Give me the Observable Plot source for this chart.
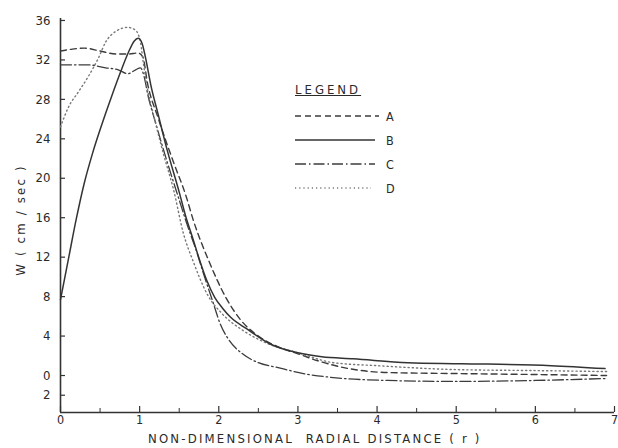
<!DOCTYPE html>
<html>
<head>
<meta charset="utf-8">
<script src="https://cdn.jsdelivr.net/npm/d3@7"></script>
<script src="https://cdn.jsdelivr.net/npm/@observablehq/plot@0.6"></script>
<style>
  html, body { margin: 0; padding: 0; background: #fff; }
  #wrap { position: relative; width: 618px; height: 448px; overflow: hidden;
          font-family: "DejaVu Sans Condensed", "DejaVu Sans", sans-serif; color: #2a2a2a; }
  #xlabel { position: absolute; left: 148px; top: 431px; font-size: 13px; line-height: 15px; letter-spacing: 2.2px; white-space: pre; }
  #ylabel { position: absolute; left: 20px; top: 220px; font-size: 13px; letter-spacing: 2.2px; white-space: pre;
            transform: translate(-50%, -50%) rotate(-90deg); }
  #legend { position: absolute; left: 295px; top: 82px; font-size: 12.5px; }
  #legend .title { text-decoration: underline; letter-spacing: 3px; font-size: 13px; margin-bottom: 7px; }
  #legend .row { display: flex; align-items: center; height: 24px; }
  #legend svg { display: block; margin-right: 5px; }
</style>
</head>
<body>
<div id="wrap">
  <div id="chart"></div>
  <div id="xlabel"></div>
  <div id="ylabel"></div>
  <div id="legend"></div>
</div>
<script>
// ---- data ----
const seriesNames = ["A", "B", "C", "D"];

const rA = [0, 0.15, 0.3, 0.5, 0.7, 0.86, 0.98, 1.04, 1.1, 1.23, 1.42, 1.59, 1.68, 1.87, 2.09, 2.28, 2.5, 2.75, 3.0, 3.25, 3.58, 4.13, 5.0, 6.0, 6.9];
const wA = [32.9, 33.1, 33.2, 32.9, 32.6, 32.6, 32.7, 32.3, 29.6, 26.2, 21.8, 18.1, 15.7, 11.7, 7.9, 5.6, 4.0, 2.9, 2.2, 1.5, 0.8, 0.3, 0.2, 0.1, 0.0];

const rB = [0, 0.1, 0.2, 0.3, 0.4, 0.52, 0.65, 0.76, 0.86, 0.93, 0.98, 1.03, 1.08, 1.14, 1.23, 1.35, 1.5, 1.58, 1.68, 1.75, 1.85, 1.95, 2.05, 2.15, 2.36, 2.65, 3.0, 3.3, 3.7, 4.39, 5.06, 6.2, 6.88];
const wB = [7.7, 11.8, 15.9, 19.5, 22.4, 25.4, 28.4, 30.8, 32.8, 33.9, 34.2, 33.7, 32.0, 29.5, 26.6, 22.8, 18.6, 16.2, 13.7, 11.9, 9.6, 7.9, 6.8, 5.9, 4.7, 3.2, 2.3, 1.9, 1.7, 1.3, 1.2, 1.0, 0.7];

const rC = [0, 0.35, 0.57, 0.73, 0.85, 0.95, 1.01, 1.06, 1.1, 1.21, 1.35, 1.5, 1.6, 1.71, 1.82, 1.92, 2.02, 2.12, 2.3, 2.5, 2.75, 3.07, 3.58, 4.13, 4.97, 6.0, 6.9];
const wC = [31.5, 31.5, 31.2, 31.0, 30.6, 31.0, 31.2, 30.2, 28.6, 25.4, 21.6, 17.8, 15.3, 12.8, 10.0, 7.6, 5.2, 3.7, 2.2, 1.3, 0.8, 0.2, -0.3, -0.5, -0.6, -0.5, -0.3];

const rD = [0, 0.1, 0.23, 0.35, 0.48, 0.57, 0.7, 0.85, 0.95, 1.01, 1.05, 1.1, 1.17, 1.3, 1.43, 1.55, 1.68, 1.85, 2.05, 2.3, 2.6, 3.0, 3.45, 4.0, 5.0, 6.0, 6.9];
const wD = [25.2, 27.2, 28.8, 30.3, 32.2, 33.8, 34.9, 35.3, 35.0, 33.8, 31.5, 29.0, 26.6, 22.5, 18.8, 14.5, 11.5, 8.3, 6.2, 4.6, 3.3, 2.3, 1.3, 1.0, 0.6, 0.5, 0.4];

const yTickValues = [36, 32, 28, 24, 20, 16, 12, 8, 4, 0, -2];
const yTickLabels = ["36", "32", "28", "24", "20", "16", "12", "8", "4", "0", "2"];
const xTickValues = [0, 1, 2, 3, 4, 5, 6, 7];
const xMinorTicks = [0.5, 1.5, 2.5, 3.5, 4.5, 5.5, 6.5];
const xLabel = "NON-DIMENSIONAL  RADIAL DISTANCE ( r )";
const yLabel = "W ( cm / sec )";
const legendTitle = "LEGEND";

// ---- build tables ----
const toRows = (rs, ws) => rs.map((r, i) => ({r, w: ws[i]}));
const rowsA = toRows(rA, wA), rowsB = toRows(rB, wB), rowsC = toRows(rC, wC), rowsD = toRows(rD, wD);

const styles = {
  A: {stroke: "#3c3c3c", strokeWidth: 1.4, strokeDasharray: "6,4"},
  B: {stroke: "#333", strokeWidth: 1.5, strokeDasharray: null},
  C: {stroke: "#3c3c3c", strokeWidth: 1.3, strokeDasharray: "11,3,1.5,3"},
  D: {stroke: "#777", strokeWidth: 1.4, strokeDasharray: "1.2,3"}
};

const yMin = -3.75, yMax = 36.2;
const axisColor = "#333";

const chart = Plot.plot({
  width: 618,
  height: 448,
  marginLeft: 60,
  marginRight: 4,
  marginTop: 18,
  marginBottom: 36,
  x: {domain: [0, 7]},
  y: {domain: [yMin, yMax]},
  style: {fontFamily: "'DejaVu Sans Condensed', 'DejaVu Sans', sans-serif", fontSize: "13px", color: "#2a2a2a", background: "#fff"},
  marks: [
    Plot.axisY(yTickValues, {anchor: "left", tickSize: -5, tickPadding: 15, stroke: axisColor, strokeWidth: 1.2,
      tickFormat: d => yTickLabels[yTickValues.indexOf(d)], label: null}),
    Plot.axisX(xTickValues, {anchor: "bottom", tickSize: -6, tickPadding: 9, fontSize: 12.5, stroke: axisColor, strokeWidth: 1.2, label: null}),
    Plot.axisX(xMinorTicks, {anchor: "bottom", tickSize: -4, tickFormat: () => "", stroke: axisColor, strokeWidth: 1, label: null}),
    Plot.ruleX([0], {stroke: axisColor, strokeWidth: 1.6}),
    Plot.ruleY([yMin], {stroke: axisColor, strokeWidth: 1.6}),
    Plot.line(rowsA, {x: "r", y: "w", curve: "monotone-x", ...styles.A}),
    Plot.line(rowsC, {x: "r", y: "w", curve: "monotone-x", ...styles.C}),
    Plot.line(rowsD, {x: "r", y: "w", curve: "monotone-x", ...styles.D}),
    Plot.line(rowsB, {x: "r", y: "w", curve: "monotone-x", ...styles.B})
  ]
});
document.getElementById("chart").appendChild(chart);

document.getElementById("xlabel").textContent = xLabel;
document.getElementById("ylabel").textContent = yLabel;

// ---- legend ----
const legend = document.getElementById("legend");
const t = document.createElement("div");
t.className = "title";
t.textContent = legendTitle;
legend.appendChild(t);
const lineLens = {A: 84, B: 80, C: 80, D: 76};
for (const name of seriesNames) {
  const row = document.createElement("div");
  row.className = "row";
  const s = styles[name];
  const len = lineLens[name];
  row.innerHTML = `<svg width="86" height="6"><line x1="0" y1="3" x2="${len}" y2="3" stroke="${s.stroke}" stroke-width="${s.strokeWidth}" ${s.strokeDasharray ? `stroke-dasharray="${s.strokeDasharray}"` : ""}/></svg><span>${name}</span>`;
  legend.appendChild(row);
}
</script>
</body>
</html>
